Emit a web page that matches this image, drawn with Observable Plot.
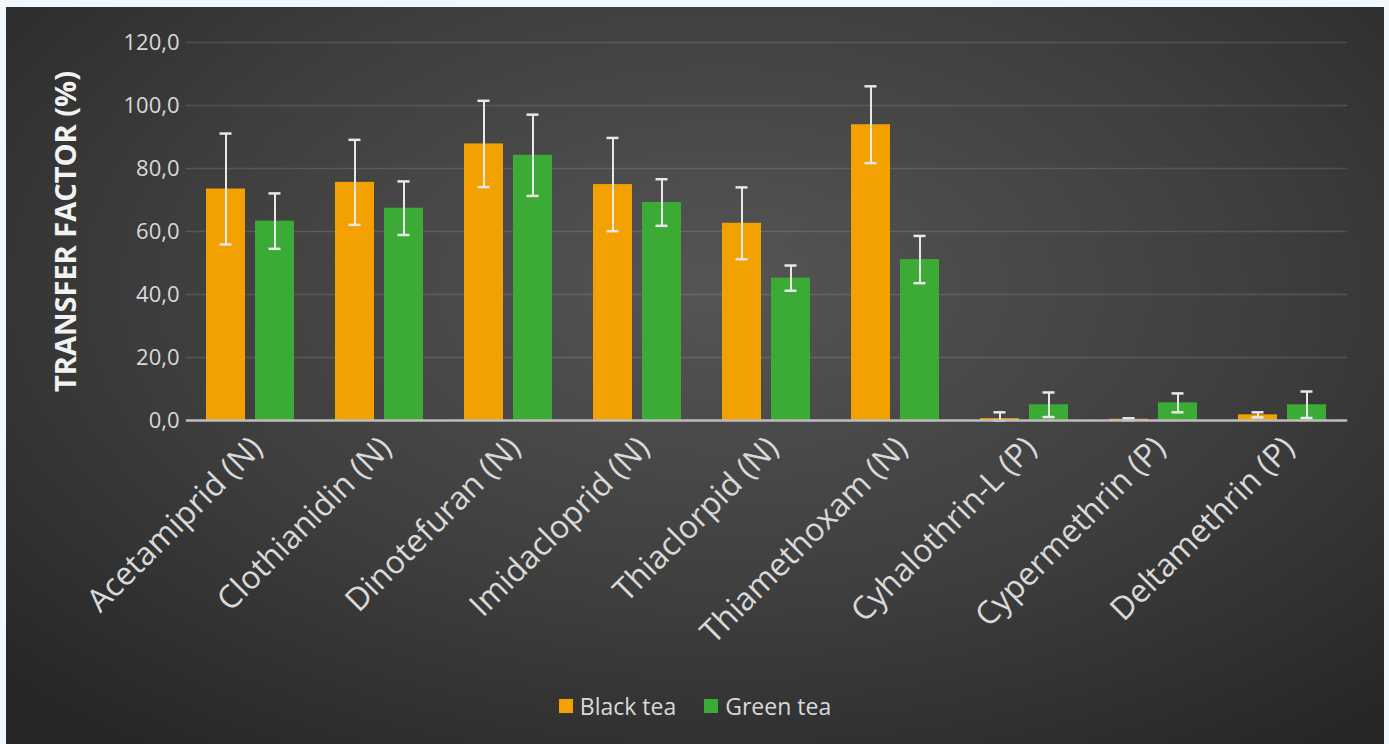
<!DOCTYPE html>
<html>
<head>
<meta charset="utf-8">
<script src="https://cdn.jsdelivr.net/npm/d3@7"></script>
<script src="https://cdn.jsdelivr.net/npm/@observablehq/plot@0.6"></script>
<style>
  html, body { margin: 0; padding: 0; }
  body { width: 1389px; height: 744px; background: #f0f7fd; position: relative; overflow: hidden; }
  #panel {
    position: absolute; left: 6px; top: 7px; width: 1378px; height: 737px;
    background: radial-gradient(ellipse 72% 78% at 52% 38%, #555555 0%, #3e3e3e 55%, #262626 100%);
    font-family: "Open Sans", sans-serif;
  }
  #chart { position: absolute; left: 0; top: 0; }
  #legend {
    position: absolute; left: 0; width: 100%; top: 683px;
    display: flex; justify-content: center; gap: 28px;
    color: #d9d9d9; font-size: 23px; font-family: "Open Sans", sans-serif;
  }
  #legend .item { display: flex; align-items: center; gap: 7px; }
  #legend .sw { width: 14px; height: 14px; display: inline-block; }
</style>
</head>
<body>
<div id="panel">
  <div id="chart"></div>
  <div id="legend"></div>
</div>
<script>
// Transfer factors (%) of pesticide residues into tea infusions
const categories = [
  "Acetamiprid (N)", "Clothianidin (N)", "Dinotefuran (N)", "Imidacloprid (N)",
  "Thiaclorpid (N)", "Thiamethoxam (N)", "Cyhalothrin-L (P)", "Cypermethrin (P)", "Deltamethrin (P)"
];
const series = ["Black tea", "Green tea"];
const blackTea = [73.5, 75.6, 87.8, 74.9, 62.6, 93.9, 0.6, 0.4, 1.8];
const blackErr = [17.6, 13.5, 13.7, 14.8, 11.4, 12.2, 2.0, 0.3, 0.8];
const greenTea = [63.3, 67.4, 84.2, 69.2, 45.2, 51.1, 5.0, 5.6, 5.0];
const greenErr = [8.8, 8.5, 12.9, 7.4, 4.0, 7.5, 3.9, 3.0, 4.2];
const yTicks = [0, 20, 40, 60, 80, 100, 120];
const colors = ["#f2a100", "#3bab35"];

const rows = [];
categories.forEach((cat, i) => {
  rows.push({cat, tea: series[0], value: blackTea[i], err: blackErr[i]});
  rows.push({cat, tea: series[1], value: greenTea[i], err: greenErr[i]});
});
const lo = d => Math.max(0, d.value - d.err);
const hi = d => d.value + d.err;
const fmt = d => d.toFixed(1).replace(".", ",");
const errStroke = "#e8e8e8";

// horizontal rules are stretched over the gap between facets so they read as one line
const spanGap = {insetLeft: -20.2, insetRight: -20.2};

const chart = Plot.plot({
  width: 1378,
  height: 660,
  marginLeft: 176,
  marginRight: 32,
  marginTop: 35,
  marginBottom: 247,
  style: {background: "transparent", fontFamily: "Open Sans, sans-serif", color: "#d9d9d9", overflow: "visible"},
  fx: {domain: categories, paddingInner: 0.3077, paddingOuter: 0.154, label: null},
  x: {domain: series, paddingInner: 0.2, paddingOuter: 0, axis: null},
  y: {domain: [0, 120], ticks: yTicks},
  color: {domain: series, range: colors},
  marks: [
    Plot.ruleY(yTicks.filter(t => t > 0), {...spanGap, stroke: "#ffffff", strokeOpacity: 0.13, strokeWidth: 1.5}),
    Plot.axisY(yTicks, {
      tickSize: 0, tickPadding: 27, fontSize: 22, tickFormat: fmt,
      label: "TRANSFER FACTOR (%)", labelAnchor: "center", labelOffset: 151, labelArrow: "none"
    }),
    Plot.axisFx({anchor: "bottom", tickRotate: -45, tickSize: 0, tickPadding: 22, dx: 6, fontSize: 32, label: null}),
    Plot.barY(rows, {fx: "cat", x: "tea", y: "value", fill: "tea"}),
    Plot.ruleX(rows, {fx: "cat", x: "tea", y1: lo, y2: hi, stroke: errStroke, strokeWidth: 2}),
    Plot.tickY(rows, {fx: "cat", x: "tea", y: hi, inset: 13.5, stroke: errStroke, strokeWidth: 2.5}),
    Plot.tickY(rows, {fx: "cat", x: "tea", y: lo, inset: 13.5, stroke: errStroke, strokeWidth: 2.5}),
    Plot.ruleY([0], {...spanGap, stroke: "#bdbdbd", strokeWidth: 2.5})
  ]
});
document.getElementById("chart").append(chart);

// Axis title styling
d3.select(chart).selectAll("[aria-label='y-axis label'] text, [aria-label='y-axis label']")
  .attr("font-size", 29).attr("font-weight", "bold").attr("fill", "#f2f2f2");

// Legend
const legend = document.getElementById("legend");
series.forEach((s, i) => {
  const item = document.createElement("div");
  item.className = "item";
  const sw = document.createElement("span");
  sw.className = "sw";
  sw.style.background = colors[i];
  const lab = document.createElement("span");
  lab.textContent = s;
  item.append(sw, lab);
  legend.append(item);
});
</script>
</body>
</html>
